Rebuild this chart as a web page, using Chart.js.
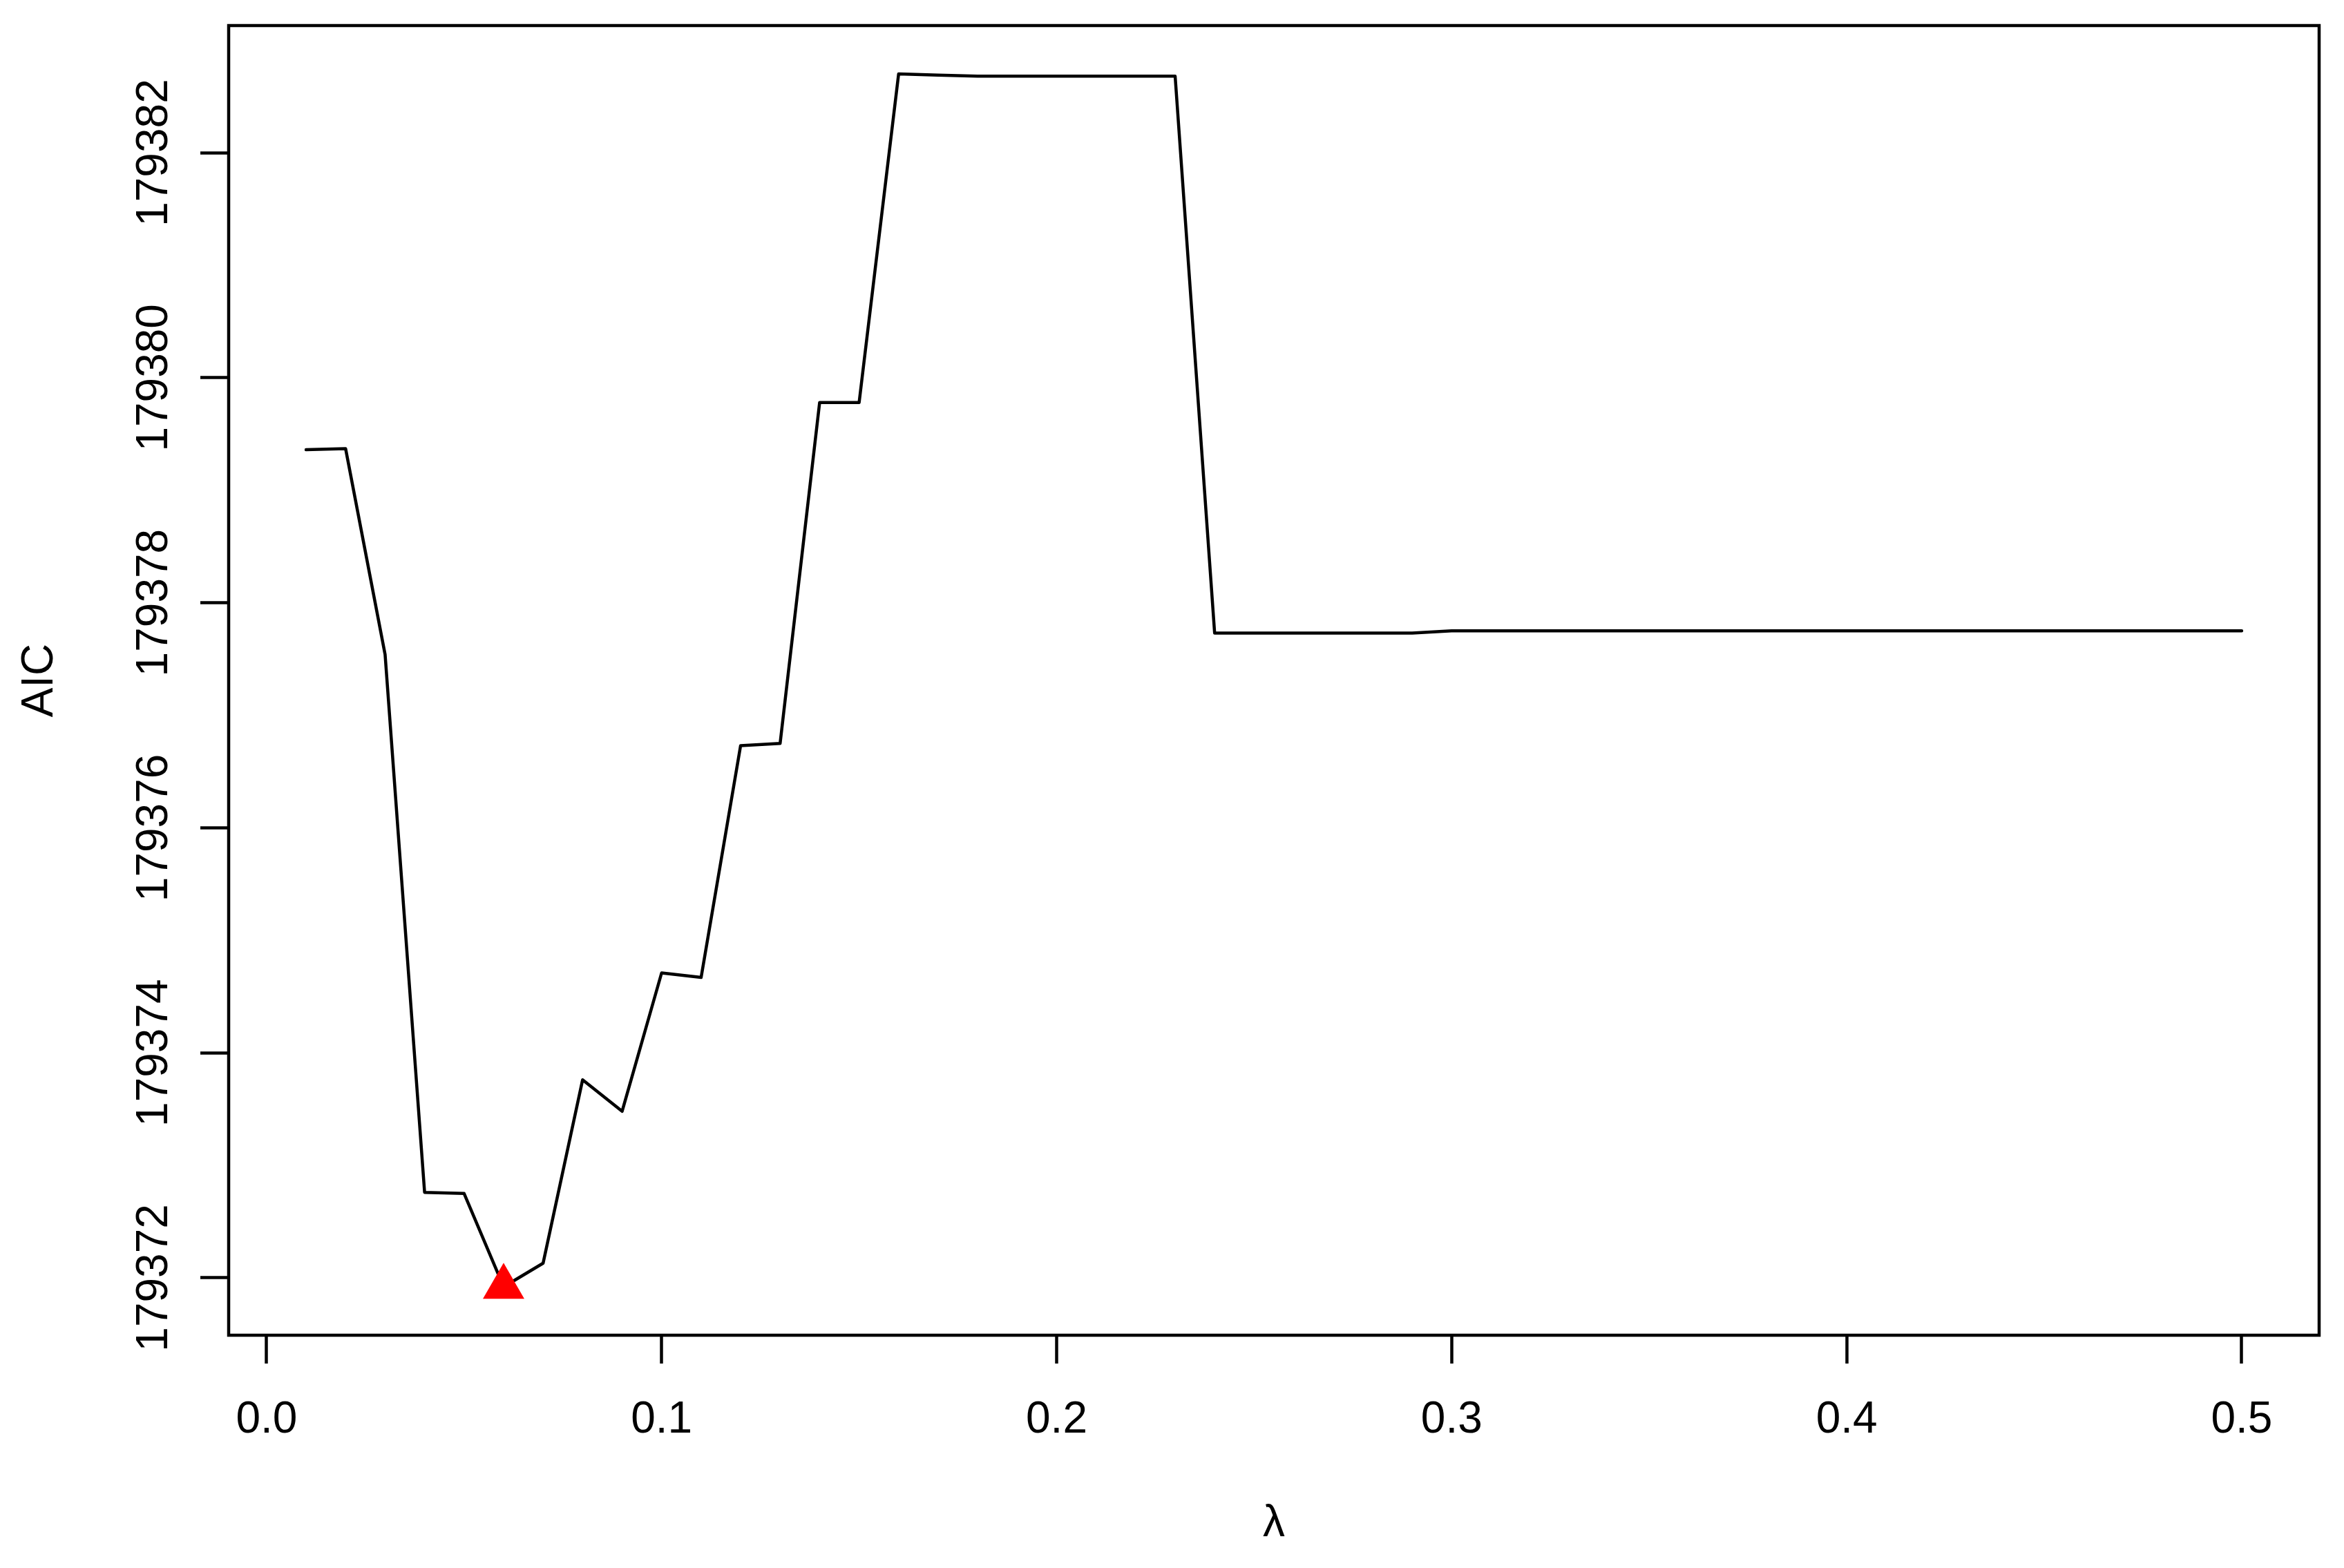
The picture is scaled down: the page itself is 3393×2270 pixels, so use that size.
<!DOCTYPE html>
<html>
<head>
<meta charset="utf-8">
<title>AIC vs lambda</title>
<script src="https://cdn.jsdelivr.net/npm/chart.js@4.4.1/dist/chart.umd.min.js"></script>
<style>
  html, body { margin: 0; padding: 0; background: #fff; }
  #wrap { width: 3393px; height: 2270px; }
</style>
</head>
<body>
<div id="wrap"><canvas id="chart" width="3393" height="2270"></canvas></div>
<script>
/* AIC por lambda — curva preta + mínimo marcado com triângulo vermelho */

// λ (eixo x)
var lambda = [
  0.01, 0.02, 0.03, 0.04, 0.05, 0.06, 0.07, 0.08, 0.09, 0.10,
  0.11, 0.12, 0.13, 0.14, 0.15, 0.16, 0.17, 0.18, 0.19, 0.20,
  0.21, 0.22, 0.23, 0.24, 0.25, 0.26, 0.27, 0.28, 0.29, 0.30,
  0.31, 0.32, 0.33, 0.34, 0.35, 0.36, 0.37, 0.38, 0.39, 0.40,
  0.41, 0.42, 0.43, 0.44, 0.45, 0.46, 0.47, 0.48, 0.49, 0.50
];
// AIC
var aic = [
  179379.36, 179379.37, 179377.54, 179372.76, 179372.75, 179371.92, 179372.13, 179373.76, 179373.48, 179374.71,
  179374.67, 179376.73, 179376.75, 179379.78, 179379.78, 179382.70, 179382.69, 179382.68, 179382.68, 179382.68,
  179382.68, 179382.68, 179382.68, 179377.73, 179377.73, 179377.73, 179377.73, 179377.73, 179377.73, 179377.75,
  179377.75, 179377.75, 179377.75, 179377.75, 179377.75, 179377.75, 179377.75, 179377.75, 179377.75, 179377.75,
  179377.75, 179377.75, 179377.75, 179377.75, 179377.75, 179377.75, 179377.75, 179377.75, 179377.75, 179377.75
];
var xTicks = [0.0, 0.1, 0.2, 0.3, 0.4, 0.5];
var yTicks = [179372, 179374, 179376, 179378, 179380, 179382];

(function () {
  'use strict';
  var INK = '#000000';
  var FONT = "'Liberation Sans', Arial, Helvetica, sans-serif";

  // ponto de mínimo
  var iMin = 0;
  aic.forEach(function (v, i) { if (v < aic[iMin]) iMin = i; });

  var pts = lambda.map(function (x, i) { return { x: x, y: aic[i] }; });

  // moldura em volta da área do gráfico (estilo box() do R)
  var boxPlugin = {
    id: 'box',
    afterDraw: function (chart) {
      var a = chart.chartArea, ctx = chart.ctx;
      ctx.save();
      ctx.strokeStyle = INK; ctx.lineWidth = 4.5;
      ctx.strokeRect(a.left, a.top, a.right - a.left, a.bottom - a.top);
      ctx.restore();
    }
  };

  function setTicks(list) {
    return function (scale) { scale.ticks = list.map(function (v) { return { value: v }; }); };
  }

  Chart.defaults.font.family = FONT;
  Chart.defaults.font.size = 64;
  Chart.defaults.color = INK;

  new Chart(document.getElementById('chart'), {
    type: 'scatter',
    data: {
      datasets: [
        { label: 'min', data: [pts[iMin]], pointStyle: 'triangle', pointRadius: 34.6,
          backgroundColor: '#ff0000', borderWidth: 0, showLine: false },
        { label: 'AIC', data: pts, showLine: true, borderColor: INK, borderWidth: 4.5,
          borderJoinStyle: 'round', borderCapStyle: 'round', pointRadius: 0, tension: 0 }
      ]
    },
    options: {
      responsive: false, animation: false, devicePixelRatio: 1,
      layout: { padding: { top: 37, right: 36, left: 0, bottom: 0 } },
      plugins: { legend: { display: false }, tooltip: { enabled: false } },
      scales: {
        x: {
          type: 'linear', position: 'bottom', min: -0.0096, max: 0.5196,
          afterBuildTicks: setTicks(xTicks),
          afterFit: function (s) { s.height = 337; },
          border: { display: false },
          grid: { drawOnChartArea: false, drawTicks: true, tickLength: 41, tickWidth: 4.5, tickColor: INK },
          ticks: { padding: 44, maxRotation: 0, autoSkip: false, color: INK,
                   callback: function (v) { return Number(v).toFixed(1); } },
          title: { display: true, text: 'λ', color: INK, padding: { top: 0, bottom: 25 } }
        },
        y: {
          type: 'linear', position: 'left', min: 179371.49, max: 179383.13,
          afterBuildTicks: setTicks(yTicks),
          afterFit: function (s) { s.width = 331; },
          border: { display: false },
          grid: { drawOnChartArea: false, drawTicks: true, tickLength: 41, tickWidth: 4.5, tickColor: INK },
          ticks: { padding: -41, minRotation: 90, maxRotation: 90, crossAlign: 'center', autoSkip: false, color: INK,
                   callback: function (v) { return String(Math.round(v)); } },
          title: { display: true, text: 'AIC', color: INK, padding: { top: 20, bottom: 0 } }
        }
      }
    },
    plugins: [boxPlugin]
  });
})();
</script>
</body>
</html>
